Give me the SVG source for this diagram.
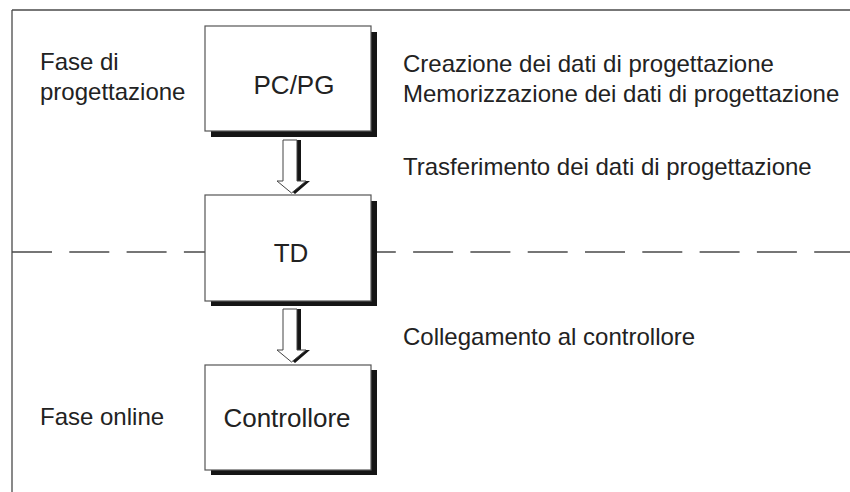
<svg xmlns="http://www.w3.org/2000/svg" width="850" height="492" viewBox="0 0 850 492">
<defs>
<style>
.frame{stroke:#4a4a4a;stroke-width:1.3;fill:none}
.dash{stroke:#4a4a4a;stroke-width:1.5;fill:none;stroke-dasharray:40 17.3}
.box{fill:#fff;stroke:#555;stroke-width:1.2}
.shadow{fill:#151515}
.lbl{font-family:"Liberation Sans",Arial,Helvetica,sans-serif;font-size:24px;fill:#222}
.blbl{font-family:"Liberation Sans",Arial,Helvetica,sans-serif;font-size:26px;fill:#222;text-anchor:middle}
.arr{fill:#fff;stroke:#444;stroke-width:1}
</style>
<g id="arrowShape">
<polygon class="shadow" points="286,140 301,140 301,181 310,181 295,194 280,181 286,181"/>
<polygon class="arr" points="283,140 297,140 297,181 306,181 291.5,193 277,181 283,181"/>
</g>
</defs>
<rect width="850" height="492" fill="#fff"/>
<g id="frame">
<line class="frame" x1="12" y1="10" x2="850" y2="10"/>
<line class="frame" x1="12" y1="10" x2="12" y2="492"/>
</g>
<line id="phase-separator" class="dash" x1="12" y1="252" x2="850" y2="252"/>
<g id="connectors">
<use href="#arrowShape"/>
<use href="#arrowShape" transform="translate(0,169)"/>
</g>
<g id="node-pcpg">
<rect class="shadow" x="211" y="32" width="166" height="105"/>
<rect class="box" x="205" y="26" width="166" height="105"/>
<text class="blbl" x="294" y="94">PC/PG</text>
</g>
<g id="node-td">
<rect class="shadow" x="211" y="201" width="166" height="105"/>
<rect class="box" x="205" y="195" width="166" height="106"/>
<text class="blbl" x="291" y="262">TD</text>
</g>
<g id="node-controllore">
<rect class="shadow" x="211" y="370" width="166" height="105"/>
<rect class="box" x="205" y="365" width="166" height="105"/>
<text class="blbl" x="287" y="427">Controllore</text>
</g>
<g id="labels">
<text class="lbl" x="40" y="70">Fase di</text>
<text class="lbl" x="40" y="100">progettazione</text>
<text class="lbl" x="40" y="425">Fase online</text>
<text class="lbl" x="403" y="72">Creazione dei dati di progettazione</text>
<text class="lbl" x="403" y="102">Memorizzazione dei dati di progettazione</text>
<text class="lbl" x="403" y="175">Trasferimento dei dati di progettazione</text>
<text class="lbl" x="403" y="345">Collegamento al controllore</text>
</g>
</svg>
